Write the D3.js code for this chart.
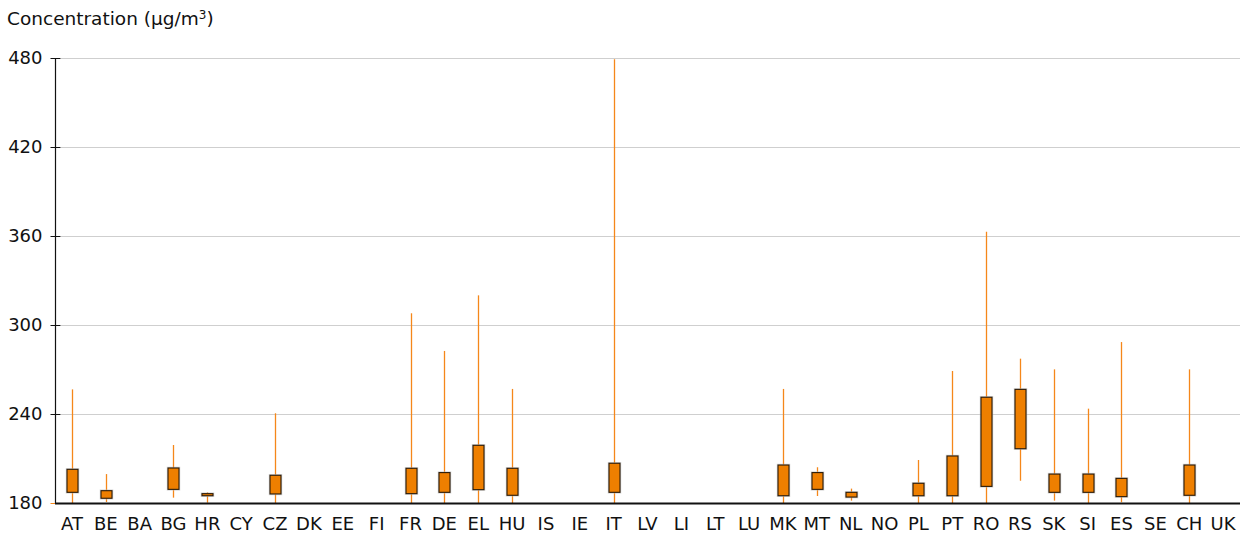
<!DOCTYPE html>
<html><head><meta charset="utf-8">
<script src="https://cdn.jsdelivr.net/npm/d3@7/dist/d3.min.js"></script>
<style>body{margin:0;background:#fff}svg text{font-family:"DejaVu Sans",Verdana,sans-serif;fill:#111}</style>
</head><body><svg id="c" width="1240" height="536"></svg>
<script>
const countries = ["AT","BE","BA","BG","HR","CY","CZ","DK","EE","FI","FR","DE","EL","HU","IS","IE","IT","LV","LI","LT","LU","MK","MT","NL","NO","PL","PT","RO","RS","SK","SI","ES","SE","CH","UK"];
// null = no data
const whiskerLow  = [180,180.7,null,183.6,180.2,null,180,null,null,null,180,180,180,180,null,null,180,null,null,null,null,180,184.7,181.6,null,180,180,180,195.0,181.6,180,180.5,null,180,null];
const boxLow      = [187.2,183.2,null,189.2,184.9,null,186.1,null,null,null,186.3,187.2,189.0,185.2,null,null,187.2,null,null,null,null,184.9,189.2,184.0,null,184.9,184.9,191.2,216.6,187.2,187.2,184.3,null,185.2,null];
const boxHigh     = [202.7,188.3,null,203.6,186.3,null,198.7,null,null,null,203.4,200.5,218.9,203.4,null,null,206.8,null,null,null,null,205.6,200.5,187.2,null,193.3,211.7,251.3,256.6,199.5,199.5,196.6,null,205.6,null];
const whiskerHigh = [256.6,199.5,null,219.1,187.2,null,240.5,null,null,null,307.9,282.5,320.0,256.9,null,null,479.1,null,null,null,null,256.9,204.1,189.7,null,209.0,269.0,362.9,277.3,270.1,243.6,288.5,null,270.1,null];
const yTicks = [180,240,300,360,420,480];

(function () {
const svg = d3.select("#c");
const mLeft = 55, mRight = 1240, mTop = 58, mBottom = 503;
const FONT = '"DejaVu Sans",Verdana,sans-serif';
const x = d3.scaleBand().domain(countries).range([mLeft, mRight]);
const y = d3.scaleLinear().domain([180, 480]).range([mBottom, mTop]);

// gridlines
svg.append("g").selectAll("line").data(yTicks.filter(d => d > 180)).join("line")
  .attr("x1", mLeft + 6).attr("x2", mRight)
  .attr("y1", d => Math.round(y(d)) + 0.5).attr("y2", d => Math.round(y(d)) + 0.5)
  .attr("stroke", "#cfcfcf").attr("stroke-width", 1);

const rows = countries.map((c, i) => ({c, wl: whiskerLow[i], bl: boxLow[i], bh: boxHigh[i], wh: whiskerHigh[i]})).filter(d => d.wh != null);
const cx = d => Math.round(x(d.c) + x.bandwidth() / 2);

// whiskers
svg.append("g").selectAll("line").data(rows).join("line")
  .attr("x1", d => cx(d) + 0.5).attr("x2", d => cx(d) + 0.5)
  .attr("y1", d => y(d.wl)).attr("y2", d => y(d.wh))
  .attr("stroke", "#f5871a").attr("stroke-width", 1.3);

const bw = 11;
// box shadows
svg.append("g").selectAll("rect").data(rows).join("rect")
  .attr("x", d => cx(d) - bw / 2)
  .attr("y", d => y(d.bh) - 0.5)
  .attr("width", bw + 1).attr("height", d => y(d.bl) - y(d.bh) + 1)
  .attr("fill", "none").attr("stroke", "#bbb").attr("stroke-width", 1.5).attr("opacity", 0.6);
// boxes
svg.append("g").selectAll("rect").data(rows).join("rect")
  .attr("x", d => cx(d) - bw / 2 + 0.5)
  .attr("y", d => y(d.bh))
  .attr("width", bw).attr("height", d => Math.max(1, y(d.bl) - y(d.bh)))
  .attr("fill", "#ee7f00").attr("stroke", "#2a1a08").attr("stroke-width", 1.1);

// y axis
const yAxis = d3.axisLeft(y).tickValues(yTicks).tickSize(0).tickPadding(13);
const ga = svg.append("g").attr("transform", `translate(${mLeft + 0.5},0)`).call(yAxis);
ga.select(".domain").remove();
ga.selectAll("text").attr("font-size", 18).style("font-family", FONT).attr("fill", "#111");
ga.selectAll(".tick").append("line").attr("x1", -5).attr("x2", 5)
  .attr("stroke", d => d === 180 ? "#f5871a" : "#111").attr("stroke-width", 1);
svg.append("line").attr("x1", mLeft + 0.5).attr("x2", mLeft + 0.5).attr("y1", mTop).attr("y2", mBottom).attr("stroke", "#111").attr("stroke-width", 1.2);

// x axis
const xAxis = d3.axisBottom(x).tickSize(0).tickPadding(14);
const gx = svg.append("g").attr("transform", `translate(0,${mBottom})`).call(xAxis);
gx.select(".domain").remove();
gx.selectAll("text").attr("font-size", 18).style("font-family", FONT).attr("fill", "#111");
svg.append("line").attr("x1", mLeft).attr("x2", mRight).attr("y1", mBottom + 0.5).attr("y2", mBottom + 0.5).attr("stroke", "#111").attr("stroke-width", 2);

// title
const t = svg.append("text").attr("x", 7).attr("y", 25).attr("font-size", 18.5);
t.append("tspan").text("Concentration (µg/m");
t.append("tspan").attr("font-size", 12).attr("dy", -6).text("3");
t.append("tspan").attr("dy", 6).text(")");
})();
</script></body></html>
